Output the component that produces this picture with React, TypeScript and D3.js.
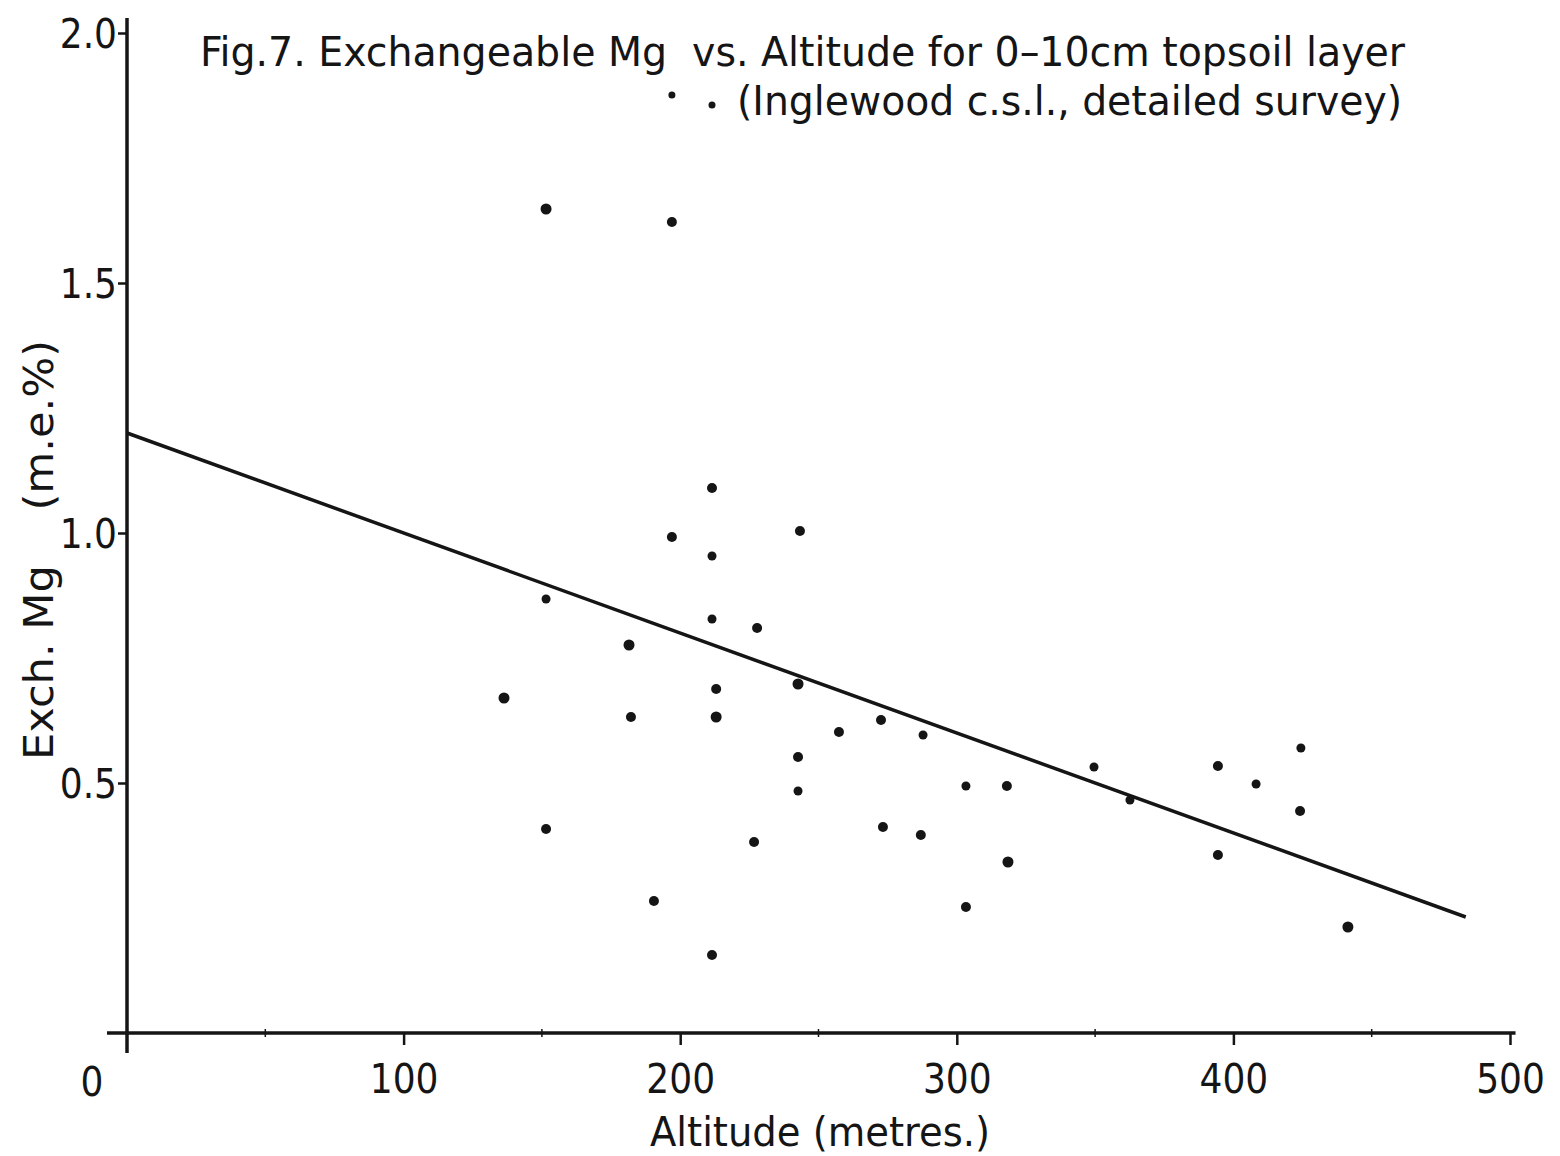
import React, { useEffect, useRef } from 'react';
import * as d3 from 'd3';

// altitude (m) and exchangeable Mg (m.e.%)
const altitude = [
  151.5, 197, 197, 211.5, 197, 211.5, 243.3, 151.5, 211.5, 227.8,
  181.5, 136.3, 213, 242.6, 182.2, 213, 257.4, 272.6, 287.8, 242.6,
  242.6, 303.3, 318.1, 349.6, 362.6, 394.4, 408.2, 424.4, 424.1, 394.4,
  318.5, 273.3, 287, 226.7, 151.5, 190.5, 303.3, 211.5, 441.4,
];
const exchMg = [
  1.648, 1.622, 1.876, 1.09, 0.992, 0.954, 1.004, 0.868, 0.828, 0.81,
  0.776, 0.67, 0.688, 0.698, 0.632, 0.632, 0.602, 0.626, 0.596, 0.552,
  0.484, 0.494, 0.494, 0.532, 0.466, 0.534, 0.498, 0.57, 0.444, 0.356,
  0.342, 0.412, 0.396, 0.382, 0.408, 0.264, 0.252, 0.156, 0.212,
];
const dotSize = [
  5.5, 5, 3.5, 5, 5, 4.5, 5, 4.5, 4.5, 5,
  5.5, 5.5, 5, 5.5, 5, 5.5, 5, 5, 4.5, 5,
  4.5, 4.5, 5, 4.5, 4.5, 5, 4.5, 4.5, 5, 5,
  5.5, 5, 5, 5, 5, 5, 5, 5, 5.5,
];

// regression line
const lineAltitude = [0, 484];
const lineMg = [1.2, 0.232];

const xTicks = [100, 200, 300, 400, 500];
const xMinorTicks = [50, 150, 250, 350, 450];
const yTicks = [0.5, 1.0, 1.5, 2.0];

const FONT = '"DejaVu Sans Condensed", "Liberation Sans Narrow", "DejaVu Sans", sans-serif';

export default function App() {
  const ref = useRef<SVGSVGElement>(null);

  useEffect(() => {
    const svg = d3.select(ref.current);
    svg.selectAll('*').remove();

    const x = d3.scaleLinear().domain([0, 500]).range([127, 1510]);
    const y = d3.scaleLinear().domain([0, 2]).range([1033, 33]);

    const ink = '#151515';

    // axes lines
    svg.append('line')
      .attr('x1', x(0)).attr('x2', x(0))
      .attr('y1', y(2.03)).attr('y2', y(0) + 20)
      .attr('stroke', ink).attr('stroke-width', 3.5);
    svg.append('line')
      .attr('x1', x(0) - 20).attr('x2', x(502))
      .attr('y1', y(0)).attr('y2', y(0))
      .attr('stroke', ink).attr('stroke-width', 3.5);

    // y axis ticks + labels
    const yAxis = d3.axisLeft(y)
      .tickValues(yTicks)
      .tickSize(9)
      .tickPadding(1)
      .tickFormat(d3.format('.1f'));
    const gy = svg.append('g').attr('transform', `translate(${x(0)},0)`).call(yAxis);
    gy.select('.domain').remove();
    gy.selectAll('line').attr('stroke', ink).attr('stroke-width', 2.5);
    gy.selectAll('text')
      .attr('font-family', FONT)
      .attr('font-size', 40)
      .attr('fill', ink)
      .attr('dy', '0.36em');

    // x axis ticks + labels
    const xAxis = d3.axisBottom(x)
      .tickValues(xTicks)
      .tickSize(12)
      .tickPadding(20)
      .tickFormat(d3.format('d'));
    const gx = svg.append('g').attr('transform', `translate(0,${y(0)})`).call(xAxis);
    gx.select('.domain').remove();
    gx.selectAll('line').attr('stroke', ink).attr('stroke-width', 2.5);
    gx.selectAll('text')
      .attr('font-family', FONT)
      .attr('font-size', 40)
      .attr('fill', ink);

    svg.append('g').selectAll('line')
      .data(xMinorTicks)
      .join('line')
      .attr('x1', (d) => x(d)).attr('x2', (d) => x(d))
      .attr('y1', y(0) - 4).attr('y2', y(0) + 4)
      .attr('stroke', ink).attr('stroke-width', 1.5);

    // origin label
    svg.append('text')
      .attr('x', 92).attr('y', 1096)
      .attr('text-anchor', 'middle')
      .attr('font-family', FONT).attr('font-size', 40).attr('fill', ink)
      .text('0');

    // regression line
    const lineData = lineAltitude.map((a, i) => [a, lineMg[i]] as [number, number]);
    svg.append('path')
      .attr('d', d3.line<[number, number]>().x((d) => x(d[0])).y((d) => y(d[1]))(lineData))
      .attr('fill', 'none')
      .attr('stroke', ink)
      .attr('stroke-width', 3.5);

    // points
    svg.append('g').selectAll('circle')
      .data(altitude.map((a, i) => ({ a, m: exchMg[i], r: dotSize[i] })))
      .join('circle')
      .attr('cx', (d) => x(d.a))
      .attr('cy', (d) => y(d.m))
      .attr('r', (d) => d.r)
      .attr('fill', ink);

    // titles
    svg.append('text')
      .attr('x', 200).attr('y', 66)
      .attr('font-family', FONT).attr('font-size', 40).attr('fill', ink)
      .attr('textLength', 1205).attr('lengthAdjust', 'spacingAndGlyphs')
      .style('white-space', 'pre')
      .text('Fig.7. Exchangeable Mg  vs. Altitude for 0\u201310cm topsoil layer');
    svg.append('circle')
      .attr('cx', 712).attr('cy', 105).attr('r', 3.5).attr('fill', ink);
    svg.append('text')
      .attr('x', 737).attr('y', 115)
      .attr('font-family', FONT).attr('font-size', 40).attr('fill', ink)
      .attr('textLength', 665).attr('lengthAdjust', 'spacingAndGlyphs')
      .text('(Inglewood c.s.l., detailed survey)');

    // axis titles
    svg.append('text')
      .attr('x', 820).attr('y', 1146)
      .attr('text-anchor', 'middle')
      .attr('font-family', FONT).attr('font-size', 40).attr('fill', ink)
      .attr('textLength', 340).attr('lengthAdjust', 'spacingAndGlyphs')
      .text('Altitude (metres.)');
    svg.append('text')
      .attr('transform', 'translate(53,550) rotate(-90)')
      .attr('text-anchor', 'middle')
      .attr('font-family', FONT).attr('font-size', 40).attr('fill', ink)
      .attr('textLength', 420).attr('lengthAdjust', 'spacingAndGlyphs')
      .style('white-space', 'pre')
      .text('Exch. Mg    (m.e.%)');
  }, []);

  return (
    <svg
      ref={ref}
      width={1560}
      height={1156}
      style={{ position: 'absolute', left: 0, top: 0, background: '#fff' }}
    />
  );
}
